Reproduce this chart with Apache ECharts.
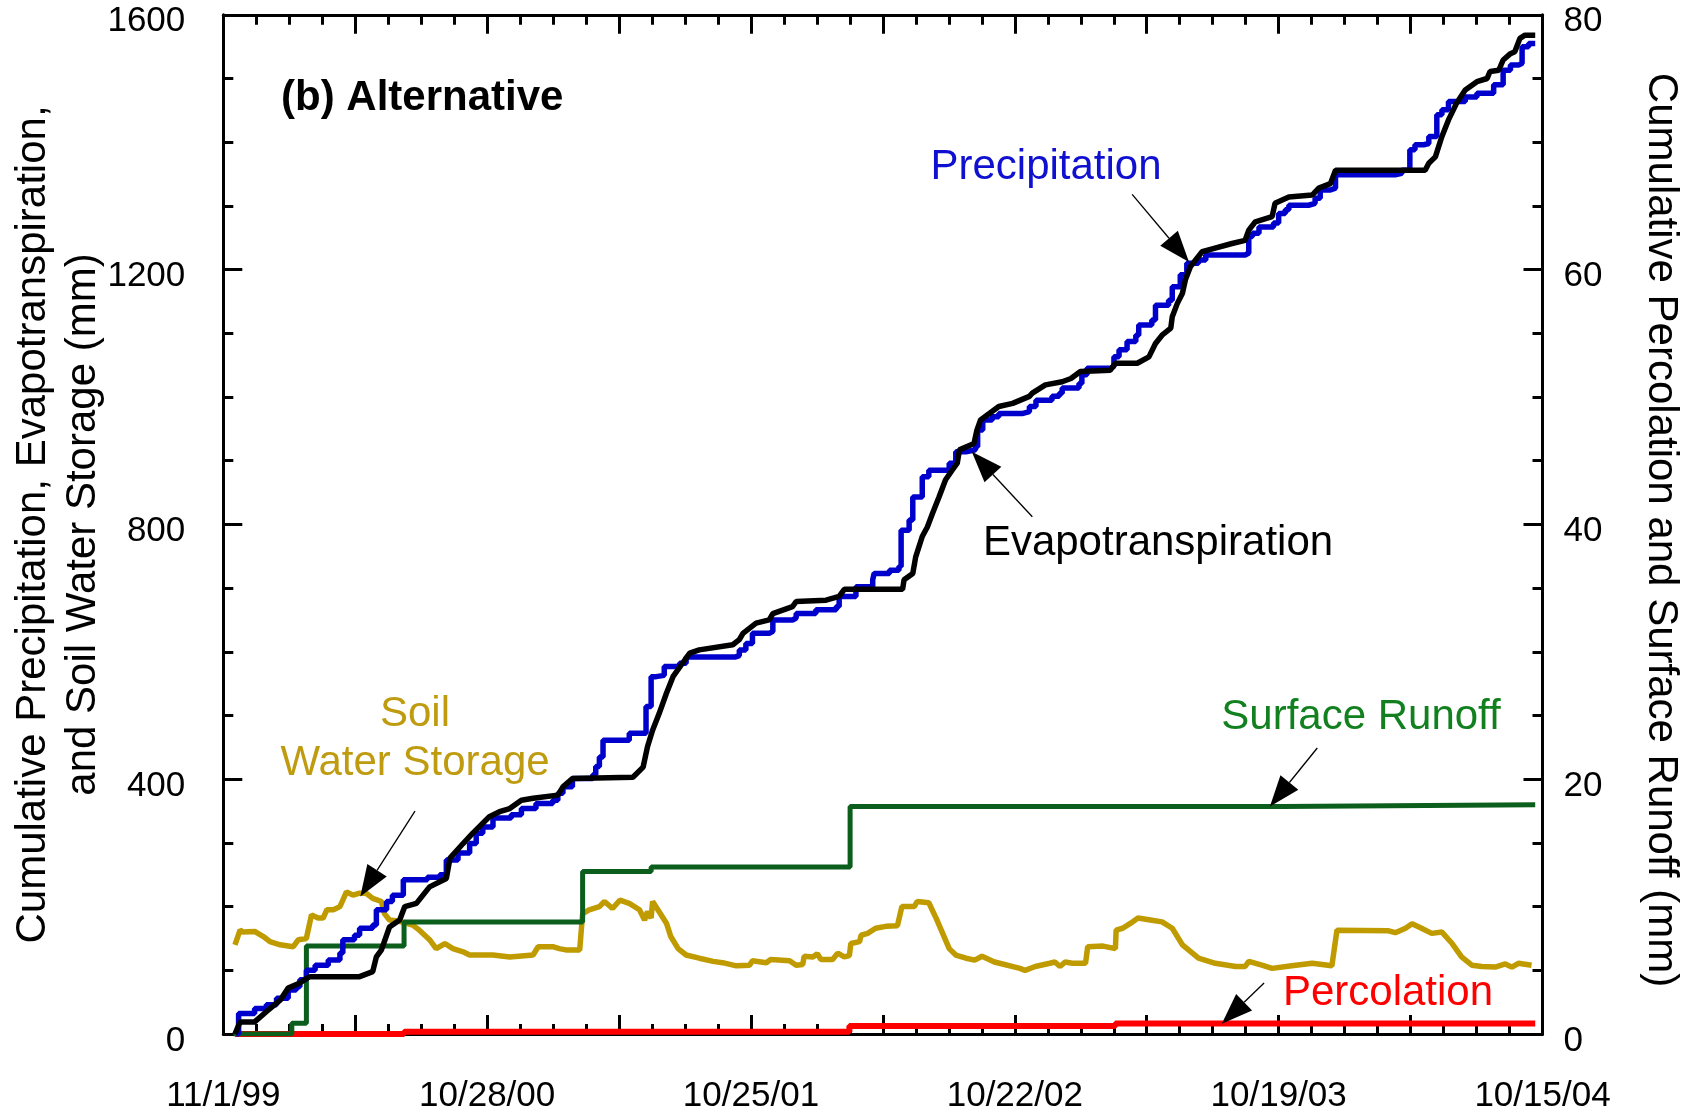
<!DOCTYPE html>
<html>
<head>
<meta charset="utf-8">
<script src="https://cdn.jsdelivr.net/npm/echarts@6/dist/echarts.min.js"></script>
<style>
html,body{margin:0;padding:0;background:#fff;}
#chart{width:1690px;height:1112px;}
</style>
</head>
<body>
<div id="chart"></div>
<script>
// ---- data (x = days since 11/1/99) ----
const xTickLabels = ['11/1/99','10/28/00','10/25/01','10/22/02','10/19/03','10/15/04'];
const leftTicks = [0, 400, 800, 1200, 1600];
const rightTicks = [0, 20, 40, 60, 80];

const precipitation = [[18,0],[21,32],[43,40],[59,46],[73,56],[89,69],[100,74],[105,85],[114,100],[126,108],[144,116],[160,127],[164,148],[180,155],[187,166],[205,171],[210,195],[224,208],[232,218],[247,242],[280,246],[297,250],[306,273],[322,284],[338,299],[347,315],[356,325],[370,339],[395,344],[409,354],[429,362],[452,367],[459,378],[466,388],[479,401],[507,407],[511,420],[516,435],[521,461],[557,472],[580,514],[587,561],[594,563],[605,577],[626,582],[635,592],[703,594],[708,603],[717,613],[726,629],[749,632],[754,650],[781,653],[786,660],[813,666],[841,671],[845,687],[868,702],[891,713],[893,723],[914,728],[927,734],[930,791],[941,807],[946,843],[959,875],[968,885],[996,896],[1005,914],[1019,917],[1032,922],[1035,948],[1042,964],[1055,969],[1064,974],[1096,977],[1106,985],[1115,995],[1137,1001],[1147,1006],[1151,1014],[1174,1021],[1178,1035],[1185,1045],[1217,1048],[1222,1063],[1229,1074],[1240,1087],[1252,1097],[1256,1113],[1274,1121],[1279,1144],[1297,1152],[1302,1173],[1313,1192],[1322,1210],[1338,1215],[1348,1223],[1402,1226],[1407,1252],[1412,1257],[1421,1267],[1441,1273],[1448,1288],[1457,1294],[1462,1301],[1489,1304],[1498,1312],[1505,1325],[1519,1328],[1526,1349],[1590,1349],[1608,1351],[1617,1356],[1628,1388],[1635,1396],[1647,1398],[1654,1409],[1665,1443],[1672,1451],[1681,1464],[1704,1471],[1720,1477],[1743,1490],[1756,1513],[1766,1521],[1777,1524],[1782,1550],[1791,1555],[1800,1555]];

const evapotranspiration = [[16,0],[23,19],[43,19],[59,35],[78,53],[89,72],[105,80],[114,87],[119,90],[187,90],[205,98],[210,121],[217,132],[228,168],[242,179],[249,200],[265,205],[283,231],[306,244],[311,276],[329,299],[342,315],[365,341],[379,349],[393,354],[409,367],[425,370],[459,375],[466,388],[479,401],[562,403],[576,419],[582,451],[589,477],[598,503],[608,535],[617,561],[630,582],[640,598],[653,603],[699,611],[708,619],[713,629],[731,645],[749,650],[754,660],[781,671],[786,679],[827,681],[845,687],[852,698],[932,698],[934,713],[946,723],[950,749],[959,781],[966,796],[973,817],[982,843],[991,870],[1000,885],[1007,896],[1010,917],[1030,927],[1034,948],[1039,964],[1051,974],[1064,985],[1083,990],[1106,1001],[1110,1006],[1128,1019],[1151,1024],[1163,1029],[1176,1040],[1217,1042],[1224,1053],[1254,1053],[1270,1063],[1279,1084],[1288,1097],[1300,1108],[1302,1126],[1309,1147],[1316,1163],[1320,1184],[1327,1205],[1343,1228],[1352,1231],[1384,1241],[1402,1246],[1407,1262],[1416,1275],[1439,1283],[1443,1304],[1462,1314],[1494,1317],[1503,1328],[1519,1335],[1526,1356],[1649,1356],[1654,1367],[1663,1377],[1672,1409],[1681,1435],[1692,1461],[1704,1482],[1720,1495],[1734,1500],[1738,1511],[1750,1513],[1756,1529],[1766,1539],[1772,1542],[1779,1563],[1786,1568],[1800,1568]];

const soilWater = [[16,140],[23,163],[27,160],[43,161],[55,153],[64,145],[78,140],[96,137],[103,148],[114,150],[121,187],[130,182],[137,182],[142,195],[151,195],[160,200],[164,210],[169,223],[178,218],[187,221],[196,221],[205,213],[217,208],[221,189],[228,179],[242,177],[260,171],[269,163],[283,148],[292,134],[304,142],[315,134],[329,129],[338,124],[370,124],[393,121],[425,124],[432,137],[452,137],[461,134],[470,132],[489,132],[493,189],[502,195],[516,200],[523,208],[534,197],[544,210],[557,205],[571,195],[578,179],[582,192],[587,182],[589,208],[598,192],[608,174],[614,153],[624,134],[635,124],[653,119],[672,114],[685,112],[704,107],[722,108],[726,115],[745,112],[751,117],[777,115],[786,108],[795,109],[797,122],[809,121],[815,126],[820,117],[836,117],[843,127],[852,121],[859,123],[861,142],[873,145],[875,155],[884,158],[895,166],[909,169],[925,170],[931,200],[948,200],[952,208],[968,206],[978,182],[987,158],[996,134],[1005,124],[1019,119],[1031,116],[1041,122],[1058,113],[1065,111],[1093,103],[1100,100],[1114,106],[1134,111],[1141,113],[1148,106],[1155,113],[1165,111],[1183,111],[1186,137],[1207,138],[1224,134],[1225,163],[1234,166],[1245,174],[1255,182],[1272,179],[1288,176],[1302,166],[1316,140],[1338,119],[1361,111],[1389,106],[1402,106],[1407,114],[1425,108],[1439,103],[1466,107],[1494,111],[1521,107],[1528,163],[1599,162],[1608,159],[1622,166],[1631,173],[1644,166],[1658,158],[1672,160],[1686,142],[1699,121],[1713,108],[1727,106],[1745,105],[1759,110],[1768,105],[1777,111],[1795,108]];

const surfaceRunoff = [[14,0],[94,0.85],[114,6.9],[248,8.8],[493,12.75],[587,13.1],[860,17.85],[1453,18.0],[1800,18.0]];
const percolation = [[16,0],[248,0.18],[859,0.62],[1224,0.82],[1800,0.82]];

// annotation arrows: [from, tip] in (day, left-axis mm)
const arrows = [
  [[263,350],[188,216]],
  [[1247,1318],[1325,1212]],
  [[1110,812],[1027,914]],
  [[1501,449],[1436,357]],
  [[1428,80],[1370,16]]
];

const FONT = "'Liberation Sans', Arial, sans-serif";
const chart = echarts.init(document.getElementById('chart'));

function axisCommon() {
  return {
    axisLine: {show: true, onZero: false, lineStyle: {color: '#000', width: 3}},
    axisTick: {show: true, inside: true, length: 19, lineStyle: {color: '#000', width: 3}},
    minorTick: {show: true, splitNumber: 4, length: 10, lineStyle: {color: '#000', width: 3}},
    splitLine: {show: false},
    minorSplitLine: {show: false}
  };
}

function yLabel(margin) {
  return {
    color: '#000', fontSize: 35, fontFamily: FONT, margin: margin,
    verticalAlign: 'top', lineHeight: 14,
    showMinLabel: true, showMaxLabel: true,
    formatter: function (v) { return String(Math.round(v)); }
  };
}

chart.setOption({
  animation: false,
  backgroundColor: '#fff',
  grid: {left: 223.3, right: 147.5, top: 14.8, bottom: 78, containLabel: false, outerBoundsMode: 'none'},
  xAxis: [
    Object.assign(axisCommon(), {
      type: 'value', min: 0, max: 1810, interval: 181, position: 'bottom',
      axisLabel: {
        show: true, color: '#000', fontSize: 35, fontFamily: FONT, margin: 45,
        showMinLabel: true, showMaxLabel: true, hideOverlap: false,
        formatter: function (v) {
          const r = Math.round(v);
          return (r % 362 === 0) ? xTickLabels[r / 362] : '';
        }
      }
    }),
    Object.assign(axisCommon(), {type: 'value', min: 0, max: 1810, interval: 181, position: 'top', axisLabel: {show: false}})
  ],
  yAxis: [
    Object.assign(axisCommon(), {
      type: 'value', min: leftTicks[0], max: leftTicks[leftTicks.length - 1], interval: 400, position: 'left',
      axisLabel: yLabel(38)
    }),
    Object.assign(axisCommon(), {
      type: 'value', min: rightTicks[0], max: rightTicks[rightTicks.length - 1], interval: 20, position: 'right',
      axisLabel: yLabel(21)
    })
  ],
  series: [
    {name: 'Percolation', type: 'line', yAxisIndex: 1, data: percolation, step: 'end', showSymbol: false, symbol: 'none',
      lineStyle: {color: '#ff0000', width: 6}},
    {name: 'Soil Water Storage', type: 'line', yAxisIndex: 0, data: soilWater, showSymbol: false, symbol: 'none',
      lineStyle: {color: '#bf9b00', width: 5.5}},
    {name: 'Surface Runoff', type: 'line', yAxisIndex: 1, data: surfaceRunoff, step: 'end', showSymbol: false, symbol: 'none',
      lineStyle: {color: '#0b5e1c', width: 5}},
    {name: 'Precipitation', type: 'line', yAxisIndex: 0, data: precipitation, step: 'end', showSymbol: false, symbol: 'none',
      lineStyle: {color: '#0000cd', width: 5.5}},
    {name: 'Evapotranspiration', type: 'line', yAxisIndex: 0, data: evapotranspiration, showSymbol: false, symbol: 'none',
      lineStyle: {color: '#000000', width: 5.5}}
  ]
});

// ---- annotations ----
function txt(text, x, y, opts) {
  return {
    type: 'text', x: x, y: y, silent: true, z: 100,
    style: Object.assign({
      text: text, fill: '#000', fontSize: 42, fontFamily: FONT,
      align: 'center', verticalAlign: 'middle'
    }, opts || {})
  };
}

const g = [];
g.push(Object.assign(txt('Cumulative Precipitation, Evapotranspiration,\nand Soil Water Storage (mm)', 58, 524.5, {lineHeight: 50}), {rotation: Math.PI / 2}));
g.push(Object.assign(txt('Cumulative Percolation and Surface Runoff (mm)', 1661, 530), {rotation: -Math.PI / 2}));
g.push(txt('(b) Alternative', 281, 98, {align: 'left', fontWeight: 'bold'}));
g.push(txt('Precipitation', 1046, 167, {fill: '#1010d0'}));
g.push(txt('Evapotranspiration', 1158, 543, {fill: '#000'}));
g.push(txt('Soil\nWater Storage', 415, 739, {fill: '#bf9b10', lineHeight: 49}));
g.push(txt('Surface Runoff', 1361, 717, {fill: '#12801f'}));
g.push(txt('Percolation', 1388, 993, {fill: '#ff0000'}));

const HEAD_L = 31, HEAD_W = 11.5;
arrows.forEach(function (a) {
  const s = chart.convertToPixel({xAxisIndex: 0, yAxisIndex: 0}, a[0]);
  const t = chart.convertToPixel({xAxisIndex: 0, yAxisIndex: 0}, a[1]);
  const dx = t[0] - s[0], dy = t[1] - s[1];
  const len = Math.sqrt(dx * dx + dy * dy);
  const ux = dx / len, uy = dy / len;
  const bx = t[0] - ux * HEAD_L, by = t[1] - uy * HEAD_L;
  const nx = -uy, ny = ux;
  g.push({type: 'line', silent: true, z: 100, shape: {x1: s[0], y1: s[1], x2: bx, y2: by}, style: {stroke: '#000', lineWidth: 1.3}});
  g.push({type: 'polygon', silent: true, z: 100, shape: {points: [[t[0], t[1]], [bx + nx * HEAD_W, by + ny * HEAD_W], [bx - nx * HEAD_W, by - ny * HEAD_W]]}, style: {fill: '#000'}});
});

chart.setOption({graphic: g});
</script>
</body>
</html>
